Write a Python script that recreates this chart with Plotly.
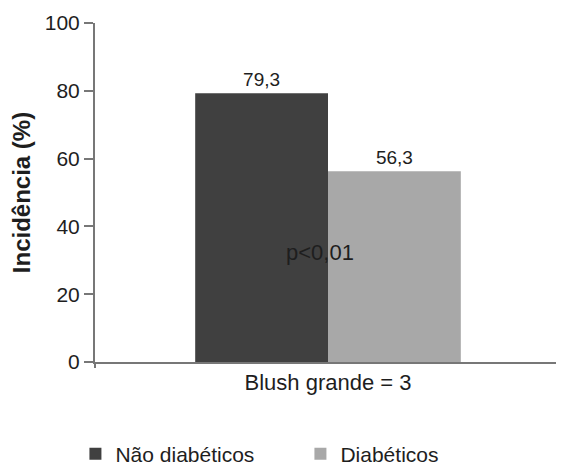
import plotly.graph_objects as go

categories = ["Blush grande = 3"]
series_names = ["Não diabéticos", "Diabéticos"]
nao_diabeticos = [79.3]
diabeticos = [56.3]
value_labels_nd = ["79,3"]
value_labels_d = ["56,3"]
p_text = "p<0,01"
p_y = 32.2
y_ticks = [0, 20, 40, 60, 80, 100]

FONT = "Liberation Sans, Arial, sans-serif"
TXT = "#1e1e1e"
fig = go.Figure()
fig.add_trace(go.Bar(
    x=categories, y=nao_diabeticos, name=series_names[0],
    marker=dict(color="#404040", line=dict(width=0)),
    text=value_labels_nd, textposition="outside",
    textfont=dict(size=19, color=TXT), cliponaxis=False,
))
fig.add_trace(go.Bar(
    x=categories, y=diabeticos, name=series_names[1],
    marker=dict(color="#a8a8a8", line=dict(width=0)),
    text=value_labels_d, textposition="outside",
    textfont=dict(size=19, color=TXT), cliponaxis=False,
))
fig.add_annotation(x=0, y=p_y, xref="x", yref="y", text=p_text,
                   showarrow=False, font=dict(size=22, color=TXT),
                   xshift=-8)
# small tick below x-axis at the y-axis line
fig.add_shape(type="line", xref="paper", yref="paper", x0=0, x1=0,
              y0=0, y1=-0.018, line=dict(color="#777", width=2))

fig.update_layout(
    width=564, height=468,
    margin=dict(l=87, r=11, t=15, b=114, autoexpand=False),
    paper_bgcolor="white", plot_bgcolor="white",
    barmode="group", bargap=0.43, bargroupgap=0,
    font=dict(family=FONT, size=21, color=TXT),
    showlegend=True,
    legend=dict(orientation="h", x=-0.042, xanchor="left", y=-0.272,
                yanchor="middle", font=dict(size=21, color=TXT),
                entrywidth=180, entrywidthmode="pixels",
                itemsizing="constant"),
    xaxis=dict(range=[-0.5, 0.5], showline=True, linecolor="#777",
               linewidth=2, ticks="", tickfont=dict(size=22, color=TXT),
               showgrid=False, zeroline=False, automargin=False),
    yaxis=dict(range=[0, 100], tickvals=y_ticks, showline=True,
               linecolor="#777", linewidth=2, ticks="outside",
               ticklen=9, tickcolor="#777", tickwidth=2,
               tickfont=dict(size=21, color=TXT),
               showgrid=False, zeroline=False, automargin=False,
               title=dict(text="<b>Incidência (%)</b>",
                          font=dict(size=24, color=TXT), standoff=12)),
)

fig.write_html("out.html")
